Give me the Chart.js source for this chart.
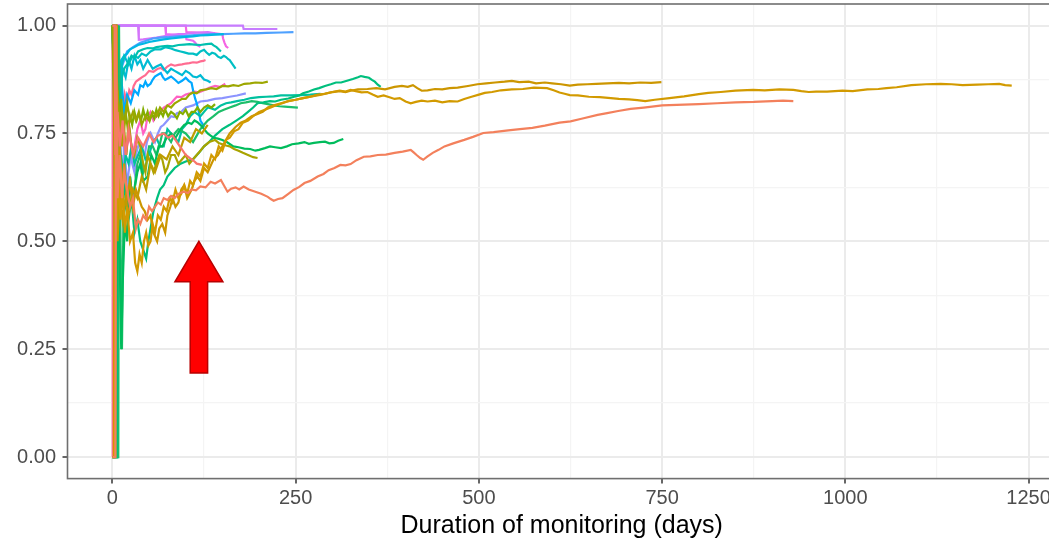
<!DOCTYPE html>
<html>
<head>
<meta charset="utf-8">
<script src="https://cdn.jsdelivr.net/npm/chart.js@4/dist/chart.umd.min.js"></script>
<style>
  html, body { margin: 0; padding: 0; background: #fff; overflow: hidden; }
  #wrap { width: 1056px; height: 542px; }
</style>
</head>
<body>
<div id="wrap"><canvas id="c" width="1056" height="542"></canvas></div>
<script>
// ---- axis ticks ----
const xTickValues = [0, 125, 250, 375, 500, 625, 750, 875, 1000, 1125, 1250];
const xMajorTicks = [0, 250, 500, 750, 1000, 1250];
const yTickValues = [0, 0.125, 0.25, 0.375, 0.5, 0.625, 0.75, 0.875, 1.0];
const yMajorTicks = [0, 0.25, 0.5, 0.75, 1.0];
const xTitle = "Duration of monitoring (days)";

// ---- series: [day, proportion] ----
const salmonLong = [[0,0],[4,0],[5,1],[7,0.6],[10,0.7],[13,0.6],[16,0.66],[20,0.62],[24,0.58],[28,0.6],[32,0.53],[35,0.55],[38,0.54],[42,0.56],[46,0.55],[50,0.58],[54,0.57],[58,0.58],[62,0.59],[66,0.585],[70,0.6],[75,0.596],[80,0.605],[85,0.6],[90,0.61],[97,0.615],[103,0.612],[108,0.62],[114,0.618],[120,0.627],[127,0.625],[134,0.638],[140,0.634],[148,0.642],[152,0.63],[157,0.615],[162,0.622],[168,0.625],[173,0.62],[179,0.627],[186,0.62],[195,0.615],[203,0.61],[212,0.603],[216,0.598],[220,0.594],[226,0.598],[232,0.6],[240,0.61],[247,0.619],[255,0.626],[262,0.635],[270,0.64],[280,0.65],[288,0.656],[295,0.665],[303,0.67],[311,0.677],[318,0.676],[325,0.679],[333,0.688],[343,0.696],[352,0.697],[362,0.7],[373,0.701],[385,0.705],[396,0.708],[407,0.712],[411,0.706],[415,0.7],[420,0.693],[424,0.689],[430,0.697],[437,0.705],[445,0.712],[453,0.72],[465,0.727],[480,0.735],[492,0.742],[506,0.751],[520,0.753],[540,0.757],[556,0.76],[573,0.763],[590,0.768],[610,0.775],[625,0.778],[640,0.784],[662,0.793],[675,0.797],[690,0.802],[707,0.807],[725,0.81],[750,0.815],[770,0.816],[800,0.818],[825,0.82],[850,0.822],[875,0.823],[900,0.825],[915,0.826],[929,0.825]];
const salmonShort = [[0,1],[3,1],[4,0.7],[7,0.8],[10,0.72],[14,0.78],[18,0.7],[22,0.76],[28,0.7],[35,0.74],[42,0.72],[50,0.75],[56,0.73],[62,0.745],[70,0.75],[76,0.74],[82,0.745],[88,0.73],[92,0.72],[96,0.71],[100,0.7],[104,0.695],[108,0.69],[112,0.685],[115,0.68],[122,0.677]];
const goldLong = [[0,0],[2,0],[3,1],[5,0.5],[8,0.66],[11,0.55],[14,0.62],[17,0.52],[20,0.58],[24,0.5],[28,0.52],[31,0.45],[34,0.43],[37,0.47],[40,0.45],[43,0.5],[46,0.52],[49,0.49],[52,0.5],[55,0.54],[58,0.52],[62,0.56],[66,0.55],[70,0.58],[74,0.57],[78,0.6],[82,0.59],[86,0.62],[90,0.6],[94,0.61],[98,0.63],[102,0.61],[106,0.64],[110,0.63],[115,0.66],[120,0.65],[125,0.68],[130,0.67],[135,0.7],[140,0.69],[145,0.72],[150,0.71],[155,0.735],[160,0.74],[166,0.755],[172,0.76],[178,0.775],[185,0.78],[192,0.79],[200,0.8],[208,0.805],[216,0.81],[224,0.816],[232,0.82],[240,0.825],[250,0.828],[260,0.832],[270,0.835],[280,0.84],[290,0.842],[300,0.846],[310,0.849],[318,0.847],[325,0.851],[332,0.848],[340,0.845],[348,0.846],[355,0.84],[362,0.835],[370,0.838],[378,0.834],[385,0.83],[392,0.832],[400,0.824],[407,0.82],[414,0.823],[422,0.826],[430,0.824],[440,0.826],[450,0.822],[460,0.825],[471,0.824],[480,0.83],[490,0.835],[500,0.84],[508,0.844],[518,0.846],[530,0.85],[545,0.852],[560,0.853],[575,0.856],[593,0.855],[602,0.85],[610,0.845],[617,0.842],[624,0.839],[635,0.838],[650,0.835],[665,0.834],[680,0.832],[691,0.83],[705,0.829],[716,0.827],[727,0.825],[740,0.828],[760,0.832],[780,0.836],[800,0.841],[813,0.844],[830,0.846],[850,0.849],[874,0.851],[890,0.85],[910,0.852],[929,0.851],[940,0.848],[950,0.846],[960,0.847],[975,0.847],[996,0.849],[1010,0.848],[1030,0.852],[1045,0.853],[1056,0.855],[1070,0.857],[1090,0.862],[1110,0.864],[1130,0.865],[1145,0.864],[1160,0.862],[1180,0.863],[1195,0.864],[1210,0.865],[1218,0.862],[1227,0.861]];
const goldMid = [[0,0],[4,0],[5,1],[7,0.6],[10,0.72],[13,0.62],[16,0.68],[20,0.6],[24,0.64],[28,0.58],[32,0.62],[36,0.6],[40,0.58],[44,0.57],[48,0.55],[52,0.56],[56,0.52],[61,0.5],[64,0.53],[68,0.54],[72,0.52],[75,0.56],[79,0.58],[82,0.6],[86,0.58],[90,0.59],[94,0.62],[98,0.63],[102,0.6],[108,0.62],[112,0.64],[116,0.65],[120,0.64],[125,0.67],[130,0.66],[138,0.69],[144,0.7],[150,0.72],[155,0.735],[160,0.75],[168,0.765],[175,0.775],[182,0.78],[190,0.79],[198,0.795],[205,0.8],[212,0.81],[220,0.815],[230,0.82],[240,0.825],[250,0.828],[260,0.832],[272,0.836],[285,0.84],[298,0.845],[310,0.848],[318,0.846],[325,0.849],[335,0.852],[348,0.853],[360,0.855],[372,0.852],[385,0.858],[395,0.86],[403,0.858],[410,0.862],[416,0.855],[422,0.849],[430,0.85],[440,0.853],[450,0.852],[460,0.855],[471,0.856],[485,0.86],[498,0.864],[510,0.866],[522,0.868],[535,0.87],[545,0.872],[555,0.869],[568,0.87],[578,0.866],[590,0.868],[600,0.866],[612,0.864],[624,0.861],[635,0.863],[648,0.864],[660,0.865],[675,0.866],[691,0.867],[705,0.866],[720,0.868],[735,0.867],[749,0.869]];
const goldShort = [[0,1],[6,1],[7,0.5],[10,0.62],[14,0.55],[18,0.6],[22,0.56],[28,0.62],[34,0.6],[40,0.65],[46,0.62],[52,0.68],[58,0.66],[66,0.7],[74,0.69],[82,0.72],[90,0.7],[98,0.74],[106,0.73],[114,0.76],[122,0.75],[130,0.77]];
const oliveLow = [[0,1],[5,1],[6,0.7],[10,0.8],[13,0.72],[16,0.76],[19,0.7],[22,0.78],[26,0.72],[30,0.7],[34,0.74],[38,0.72],[42,0.68],[45,0.66],[48,0.7],[52,0.68],[56,0.66],[60,0.68],[64,0.7],[68,0.69],[72,0.66],[75,0.67],[80,0.7],[85,0.7],[90,0.68],[95,0.69],[100,0.7],[105,0.68],[110,0.69],[115,0.7],[120,0.71],[125,0.72],[132,0.73],[140,0.735],[145,0.728],[150,0.725],[155,0.722],[160,0.72],[166,0.714],[172,0.71],[178,0.705],[185,0.7],[189,0.697],[192,0.695],[198,0.693]];
const oliveHigh = [[0,1],[3,0.7],[7,0.85],[10,0.75],[13,0.8],[16,0.76],[20,0.82],[24,0.78],[28,0.8],[32,0.78],[36,0.8],[40,0.77],[45,0.79],[50,0.78],[55,0.8],[60,0.79],[65,0.81],[70,0.8],[75,0.815],[80,0.81],[85,0.82],[90,0.825],[95,0.83],[100,0.83],[105,0.84],[110,0.845],[115,0.843],[120,0.85],[128,0.852],[135,0.855],[142,0.853],[150,0.86],[158,0.859],[165,0.862],[172,0.86],[180,0.865],[188,0.866],[195,0.868],[204,0.867],[212,0.87]];
const oliveGreen = [[0,1],[4,0.8],[6,0.88],[9,0.78],[12,0.83],[15,0.76],[18,0.8],[21,0.76],[24,0.79],[27,0.77],[30,0.8],[33,0.78],[36,0.795],[39,0.78],[42,0.805],[45,0.785],[48,0.8],[51,0.78],[54,0.795],[57,0.785],[60,0.805],[63,0.79],[66,0.8],[69,0.79],[72,0.805],[76,0.79],[80,0.8],[84,0.795],[88,0.785],[92,0.8],[96,0.795],[100,0.805],[104,0.79],[108,0.8],[112,0.8],[116,0.81],[120,0.8],[125,0.81],[130,0.815],[135,0.81],[140,0.818]];
const greenLow = [[0,1],[2,1],[4,0.25],[7,0.6],[10,0.45],[12,0.25],[14,0.4],[17,0.55],[20,0.5],[24,0.65],[27,0.6],[30,0.62],[34,0.66],[38,0.68],[42,0.64],[48,0.65],[53,0.7],[58,0.68],[63,0.72],[68,0.72],[74,0.74],[80,0.75],[86,0.74],[93,0.76],[98,0.77],[104,0.775],[108,0.772],[112,0.78],[116,0.776],[120,0.77],[125,0.76],[130,0.75],[134,0.745],[138,0.74],[144,0.738],[150,0.735],[156,0.73],[165,0.72],[172,0.718],[180,0.715],[188,0.714],[195,0.71],[200,0.712],[208,0.716],[215,0.72],[222,0.718],[230,0.716],[238,0.72],[245,0.725],[254,0.727],[262,0.73],[268,0.726],[275,0.728],[283,0.73],[290,0.731],[296,0.727],[302,0.728],[308,0.733],[315,0.737]];
const greenLong = [[0,0],[6,0],[7,1],[9,0.55],[12,0.7],[15,0.6],[18,0.64],[22,0.55],[26,0.6],[30,0.52],[34,0.55],[38,0.5],[42,0.48],[46,0.46],[49,0.5],[52,0.53],[56,0.57],[61,0.6],[65,0.62],[70,0.63],[75,0.65],[80,0.66],[85,0.67],[93,0.68],[100,0.685],[110,0.69],[118,0.705],[125,0.72],[132,0.73],[140,0.745],[150,0.76],[160,0.77],[170,0.781],[178,0.79],[185,0.8],[192,0.81],[198,0.82],[206,0.822],[215,0.825],[222,0.824],[230,0.828],[240,0.831],[248,0.835],[255,0.838],[260,0.843],[268,0.847],[275,0.852],[282,0.855],[290,0.86],[298,0.864],[305,0.868],[312,0.868],[320,0.872],[328,0.876],[335,0.88],[339,0.883],[344,0.881],[350,0.879],[354,0.874],[358,0.87],[362,0.863],[366,0.858]];
const greenMid = [[0,0],[8,0],[9,1],[11,0.5],[13,0.25],[15,0.55],[18,0.6],[21,0.55],[24,0.65],[27,0.6],[30,0.62],[34,0.68],[38,0.7],[42,0.66],[46,0.68],[50,0.72],[55,0.72],[60,0.7],[64,0.72],[68,0.75],[72,0.75],[76,0.74],[80,0.73],[85,0.75],[90,0.76],[95,0.755],[100,0.75],[105,0.74],[110,0.73],[115,0.745],[120,0.76],[125,0.77],[130,0.78],[138,0.79],[145,0.8],[152,0.805],[160,0.81],[168,0.815],[175,0.82],[182,0.822],[190,0.825],[198,0.823],[205,0.82],[212,0.818],[220,0.815],[228,0.813],[235,0.812],[244,0.811],[253,0.81]];
const tealGreen = [[0,1],[5,0.7],[8,0.8],[11,0.7],[15,0.65],[18,0.7],[22,0.68],[26,0.72],[30,0.68],[35,0.7],[40,0.72],[45,0.69],[50,0.7],[55,0.73],[60,0.74],[65,0.72],[70,0.72],[75,0.76],[80,0.75],[85,0.74],[90,0.73],[95,0.76],[100,0.77],[106,0.79],[112,0.8],[116,0.795],[120,0.79],[125,0.8],[130,0.81],[135,0.808],[140,0.805],[148,0.815],[155,0.82],[162,0.822],[170,0.825],[180,0.828],[189,0.832],[200,0.834],[210,0.835],[220,0.836],[230,0.838],[243,0.838],[257,0.839],[270,0.84],[284,0.842]];
const tealTop = [[0,0],[7,0],[8,1],[10,0.75],[13,0.88],[16,0.9],[20,0.91],[26,0.93],[30,0.925],[35,0.94],[42,0.945],[48,0.948],[55,0.947],[60,0.95],[68,0.952],[75,0.953],[82,0.952],[90,0.955],[98,0.956],[105,0.957],[112,0.956],[120,0.955],[128,0.957],[135,0.958],[138,0.954],[142,0.95],[145,0.945],[148,0.94]];
const cyanA = [[0,1],[3,0.8],[6,0.92],[10,0.88],[13,0.91],[16,0.93],[22,0.91],[26,0.925],[30,0.93],[35,0.925],[40,0.935],[46,0.93],[52,0.94],[58,0.945],[66,0.945],[72,0.95],[80,0.947],[86,0.943],[93,0.94],[98,0.938],[104,0.935],[110,0.935],[115,0.932],[120,0.94],[125,0.944],[128,0.938],[132,0.932],[136,0.937],[140,0.935],[144,0.928],[148,0.925],[152,0.93],[155,0.927],[158,0.922],[160,0.92],[164,0.91],[168,0.9]];
const cyanB = [[0,1],[4,0.85],[7,0.9],[10,0.86],[14,0.9],[18,0.88],[22,0.92],[26,0.9],[30,0.93],[34,0.91],[38,0.92],[42,0.9],[48,0.92],[55,0.9],[60,0.905],[66,0.91],[70,0.9],[75,0.89],[80,0.9],[85,0.895],[90,0.89],[95,0.885],[100,0.895],[105,0.89],[110,0.882],[115,0.88],[120,0.885],[125,0.875],[130,0.872],[134,0.868]];
const cyanC = [[0,0],[6,0],[7,1],[9,0.88],[12,0.92],[16,0.93],[20,0.935],[24,0.945],[30,0.95],[35,0.955],[42,0.958],[50,0.962],[60,0.965],[70,0.968],[80,0.97],[90,0.972],[100,0.974],[110,0.975],[120,0.977],[130,0.978],[140,0.979],[152,0.98]];
const skyBlue = [[0,1],[4,0.8],[7,0.9],[10,0.82],[13,0.86],[16,0.8],[20,0.84],[25,0.82],[30,0.85],[35,0.84],[38,0.862],[42,0.858],[45,0.87],[48,0.86],[52,0.865],[55,0.875],[58,0.882],[62,0.886],[66,0.89],[69,0.88],[72,0.874],[76,0.878],[80,0.882],[85,0.875],[90,0.867],[95,0.872],[100,0.879],[104,0.872],[108,0.867],[110,0.85],[113,0.83],[115,0.82],[118,0.8],[120,0.78],[123,0.772],[125,0.765]];
const blueTop = [[0,1],[3,0.85],[6,0.9],[9,0.87],[12,0.9],[16,0.92],[20,0.94],[24,0.945],[28,0.95],[33,0.955],[38,0.96],[46,0.965],[55,0.97],[65,0.972],[75,0.973],[88,0.975],[100,0.976],[112,0.978],[125,0.979],[138,0.98],[150,0.98],[165,0.981],[180,0.982],[195,0.982],[210,0.983],[230,0.984],[247,0.985]];
const periwinkle = [[0,0],[3,0],[4,1],[6,0.7],[9,0.8],[12,0.68],[14,0.65],[16,0.72],[18,0.68],[20,0.62],[22,0.66],[25,0.7],[27,0.68],[30,0.66],[32,0.7],[35,0.72],[38,0.728],[41,0.71],[44,0.7],[47,0.73],[50,0.745],[52,0.751],[55,0.74],[58,0.73],[62,0.75],[66,0.765],[70,0.77],[75,0.78],[80,0.79],[84,0.788],[88,0.797],[94,0.8],[100,0.81],[110,0.815],[120,0.824],[130,0.826],[140,0.83],[150,0.832],[160,0.835],[170,0.838],[182,0.843]];
const purpleA = [[0,1],[178,1],[179,0.992],[225,0.992]];
const purpleB = [[0,1],[35,1],[36,0.967],[42,0.968],[50,0.97],[60,0.972],[70,0.975],[80,0.978],[90,0.98],[100,0.981],[110,0.983],[120,0.984],[130,0.985],[140,0.982]];
const magentaA = [[0,1],[72,1],[73,0.98],[90,0.978],[100,0.977],[101,0.968],[110,0.965],[113,0.96],[115,0.955],[120,0.951]];
const magentaB = [[0,1],[100,1],[101,0.985],[115,0.984],[130,0.983],[140,0.982],[150,0.98],[151,0.97],[153,0.96],[155,0.952],[158,0.948]];
const pinkA = [[0,1],[3,0.6],[5,0.85],[8,0.7],[11,0.8],[14,0.75],[17,0.68],[20,0.72],[24,0.75],[27,0.7],[30,0.72],[34,0.76],[38,0.78],[42,0.75],[45,0.76],[48,0.79],[52,0.8],[56,0.78],[60,0.79],[65,0.8],[70,0.81],[75,0.815],[80,0.82],[85,0.83],[88,0.835],[94,0.834],[100,0.84],[106,0.843],[112,0.847],[118,0.845],[125,0.85],[132,0.856],[140,0.86],[147,0.858],[154,0.865]];
const pinkB = [[0,0],[0.5,1],[3,0.7],[5,0.85],[8,0.75],[11,0.82],[14,0.78],[17,0.84],[20,0.82],[23,0.85],[26,0.84],[29,0.86],[32,0.87],[36,0.875],[40,0.88],[45,0.885],[50,0.895],[56,0.893],[62,0.9],[66,0.902],[70,0.897],[75,0.905],[80,0.91],[85,0.907],[90,0.909],[95,0.91],[100,0.912],[105,0.913],[110,0.915],[115,0.914],[120,0.917],[124,0.918],[127,0.92]];

// series in drawing order, with their colours
const seriesList = [salmonLong, salmonShort, goldLong, goldMid, goldShort, oliveLow, oliveHigh, oliveGreen, greenLow, greenLong, greenMid, tealGreen, tealTop, cyanA, cyanB, cyanC, skyBlue, blueTop, periwinkle, purpleA, purpleB, magentaA, magentaB, pinkA, pinkB];
const palette = ["#F3805C", "#F8766D", "#D29A00", "#CC9600", "#BE9C00", "#A9A300", "#9DA700", "#83AD00", "#00BC5C", "#00BF7D", "#1DBE6A", "#00C19F", "#00C0AF", "#00BFC4", "#00BBD4", "#00B8E3", "#00A9FF", "#4EA1FF", "#8C94FF", "#C77CFF", "#D574FB", "#E76BF3", "#F564E3", "#FF61C3", "#FF6C91"];

// arrow annotation in data coordinates
const arrowTip = { x: 118, y: 0.5 };
const arrowHeadBase = 0.406;
const arrowTail = 0.195;

const datasets = seriesList.map((s, i) => ({
  data: s.map(p => ({ x: p[0], y: p[1] })),
  borderColor: palette[i],
  backgroundColor: palette[i],
  borderWidth: 2.2,
  pointRadius: 0,
  tension: 0,
  fill: false
}));

const frame = {
  id: 'frame',
  afterDatasetsDraw(chart) {
    const { ctx, chartArea: a, scales } = chart;
    const xs = scales.x.getPixelForValue(arrowTip.x);
    const ty = scales.y.getPixelForValue(arrowTip.y);
    const hb = scales.y.getPixelForValue(arrowHeadBase);
    const tb = scales.y.getPixelForValue(arrowTail);
    const hw = 24, sw = 8.7;
    ctx.save();
    ctx.beginPath();
    ctx.moveTo(xs, ty);
    ctx.lineTo(xs + hw, hb);
    ctx.lineTo(xs + sw, hb);
    ctx.lineTo(xs + sw, tb);
    ctx.lineTo(xs - sw, tb);
    ctx.lineTo(xs - sw, hb);
    ctx.lineTo(xs - hw, hb);
    ctx.closePath();
    ctx.fillStyle = '#FF0000';
    ctx.fill();
    ctx.lineWidth = 1.5;
    ctx.strokeStyle = '#B80000';
    ctx.stroke();
    ctx.lineWidth = 1.6;
    ctx.strokeStyle = '#6f6f6f';
    ctx.strokeRect(a.left, a.top, a.right - a.left, a.bottom - a.top);
    ctx.restore();
  }
};

const isMajor = (v, list) => list.some(m => Math.abs(m - v) < 1e-9);

new Chart(document.getElementById('c'), {
  type: 'line',
  data: { datasets },
  options: {
    responsive: false,
    animation: false,
    devicePixelRatio: 1,
    layout: { padding: { top: 4, right: 0, left: 0, bottom: 0 } },
    plugins: { legend: { display: false }, tooltip: { enabled: false } },
    scales: {
      x: {
        type: 'linear',
        min: -61.3,
        max: 1287.4,
        afterBuildTicks: s => { s.ticks = xTickValues.map(v => ({ value: v })); },
        afterFit: s => { s.height = 63.4; s.paddingLeft = 0; s.paddingRight = 0; },
        grid: {
          color: c => isMajor(c.tick.value, xMajorTicks) ? '#EBEBEB' : '#F4F4F4',
          lineWidth: c => isMajor(c.tick.value, xMajorTicks) ? 2 : 1.2,
          tickColor: c => isMajor(c.tick.value, xMajorTicks) ? '#333333' : 'rgba(0,0,0,0)',
          tickLength: 5,
          tickWidth: 1.5,
          drawTicks: true
        },
        border: { display: false },
        ticks: {
          autoSkip: false,
          maxRotation: 0,
          padding: 3,
          color: '#4D4D4D',
          font: { family: 'Liberation Sans', size: 20 },
          callback: v => isMajor(v, xMajorTicks) ? String(v) : ''
        },
        title: {
          display: true,
          text: xTitle,
          color: '#000000',
          font: { family: 'Liberation Sans', size: 25 },
          padding: { top: 1, bottom: 1.2 }
        }
      },
      y: {
        type: 'linear',
        min: -0.05,
        max: 1.05,
        afterBuildTicks: s => { s.ticks = yTickValues.map(v => ({ value: v })); },
        afterFit: s => { s.width = 67.5; s.paddingTop = 0; s.paddingBottom = 0; },
        grid: {
          color: c => isMajor(c.tick.value, yMajorTicks) ? '#EBEBEB' : '#F4F4F4',
          lineWidth: c => isMajor(c.tick.value, yMajorTicks) ? 2 : 1.2,
          tickColor: c => isMajor(c.tick.value, yMajorTicks) ? '#333333' : 'rgba(0,0,0,0)',
          tickLength: 5,
          tickWidth: 1.5,
          drawTicks: true
        },
        border: { display: false },
        ticks: {
          autoSkip: false,
          padding: 6.5,
          color: '#4D4D4D',
          font: { family: 'Liberation Sans', size: 20 },
          callback: v => isMajor(v, yMajorTicks) ? v.toFixed(2) : ''
        }
      }
    }
  },
  plugins: [frame]
});
</script>
</body>
</html>
